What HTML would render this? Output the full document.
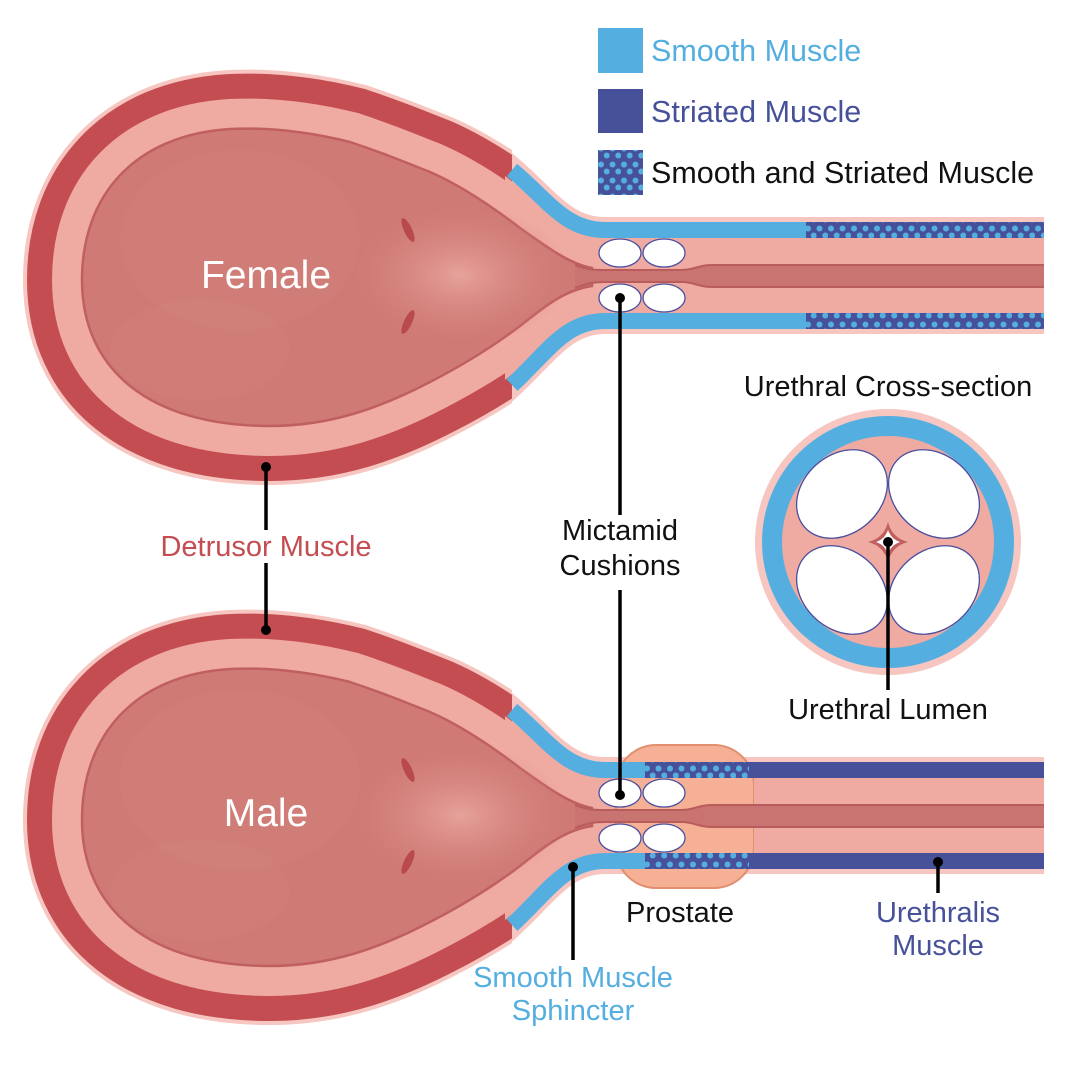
<!DOCTYPE html>
<html><head><meta charset="utf-8"><style>
html,body{margin:0;padding:0;background:#fff}
svg{display:block}
text{font-family:"Liberation Sans",Arial,sans-serif}
</style></head><body>
<svg width="1080" height="1065" viewBox="0 0 1080 1065" xmlns="http://www.w3.org/2000/svg">
<defs>
<pattern id="dots" x="0" y="0" width="11.5" height="16" patternUnits="userSpaceOnUse">
<rect width="11.5" height="16" fill="#46519a"/>
<circle cx="3" cy="4.5" r="3" fill="#55aee0"/>
<circle cx="8.75" cy="11.5" r="3" fill="#55aee0"/>
</pattern>
<clipPath id="cl"><rect x="0" y="0" width="512" height="600"/></clipPath>
<clipPath id="cl2"><rect x="0" y="0" width="512" height="600"/></clipPath>
<radialGradient id="trig" cx="0.5" cy="0.5" r="0.5">
<stop offset="0" stop-color="#e6a39b"/><stop offset="1" stop-color="#d7817b" stop-opacity="0"/>
</radialGradient>
<path id="core" d="M592,268 C570,264 548,248 520,228 C490,205 460,185 430,172 C400,160 380,152 350,142 C310,132 270,127 230,129 C135,135 82,195 82,280 C82,370 150,426 270,426 C330,426 380,408 430,382 C465,364 495,345 520,326 C545,306 565,290 592,286 Z"/>
<g id="bladder">
<use href="#core" fill="none" stroke="#f7c6c0" stroke-width="118" clip-path="url(#cl2)"/>
<use href="#core" fill="none" stroke="#c44d52" stroke-width="110" clip-path="url(#cl)"/>
<path d="M505,176 C545,206 565,234 605,234 L1044,234 L1044,318 L605,318 C565,318 545,348 505,380 Z" fill="#efaaa2"/>
<use href="#core" fill="none" stroke="#efaaa2" stroke-width="60"/>
<use href="#core" fill="#cf7a75" stroke="#c0605e" stroke-width="2.5"/>
<ellipse cx="240" cy="240" rx="120" ry="90" fill="#d98a83" opacity="0.2"/>
<ellipse cx="200" cy="350" rx="90" ry="50" fill="#d98a83" opacity="0.2"/>
<ellipse cx="460" cy="275" rx="110" ry="70" fill="url(#trig)"/>
<ellipse cx="408" cy="230" rx="4" ry="13" transform="rotate(-25 408 230)" fill="#b84a4e"/>
<ellipse cx="408" cy="322" rx="4" ry="13" transform="rotate(25 408 322)" fill="#b84a4e"/>
</g>
<g id="neck">
<path d="M500,160 C545,196 562,230 605,230 L1044,230" fill="none" stroke="#f7c6c0" stroke-width="26"/>
<path d="M500,395 C545,356 562,321 605,321 L1044,321" fill="none" stroke="#f7c6c0" stroke-width="26"/>
</g>
<path id="lum" d="M575,265 C588,270 595,270 605,270 L682,270 C694,270 698,265 712,265 L1044,265 L1044,287 L712,287 C698,287 694,282 682,282 L605,282 C595,282 588,283 575,288 Z"/>
<g id="cush" fill="#fff" stroke="#4a4fa0" stroke-width="1.3">
<ellipse cx="620" cy="253" rx="21" ry="14"/><ellipse cx="664" cy="253" rx="21" ry="14"/>
<ellipse cx="620" cy="298" rx="21" ry="14"/><ellipse cx="664" cy="298" rx="21" ry="14"/>
</g>
</defs>

<!-- FEMALE -->
<use href="#neck"/>
<use href="#bladder"/>
<path d="M512,170 C548,200 565,230 605,230 L806,230" fill="none" stroke="#55aee0" stroke-width="16"/>
<path d="M512,385 C548,352 565,321 605,321 L806,321" fill="none" stroke="#55aee0" stroke-width="16"/>
<rect x="806" y="222" width="238" height="16" fill="url(#dots)"/>
<rect x="806" y="313" width="238" height="16" fill="url(#dots)"/>
<use href="#lum" fill="#c97470"/>
<path d="M575,265 C588,270 595,270 605,270 L682,270 C694,270 698,265 712,265 L1044,265 M1044,287 L712,287 C698,287 694,282 682,282 L605,282 C595,282 588,283 575,288" fill="none" stroke="#b85c5c" stroke-width="2"/>
<use href="#cush"/>

<!-- MALE -->
<g transform="translate(0,540)">
<use href="#neck"/>
<use href="#bladder"/>
<rect x="616" y="205" width="138" height="143" rx="40" fill="#f5b096" stroke="#e0906e" stroke-width="2"/>
<path d="M512,170 C548,200 565,230 605,230 L645,230" fill="none" stroke="#55aee0" stroke-width="16"/>
<path d="M512,385 C548,352 565,321 605,321 L645,321" fill="none" stroke="#55aee0" stroke-width="16"/>
<rect x="645" y="222" width="399" height="16" fill="#46519a"/>
<rect x="645" y="313" width="399" height="16" fill="#46519a"/>
<rect x="645" y="222" width="104" height="16" fill="url(#dots)"/>
<rect x="645" y="313" width="104" height="16" fill="url(#dots)"/>
<rect x="754" y="238" width="290" height="75" fill="#efaaa2"/>
<use href="#lum" fill="#c97470"/>
<path d="M575,265 C588,270 595,270 605,270 L682,270 C694,270 698,265 712,265 L1044,265 M1044,287 L712,287 C698,287 694,282 682,282 L605,282 C595,282 588,283 575,288" fill="none" stroke="#b85c5c" stroke-width="2"/>
<use href="#cush"/>
</g>

<!-- Legend -->
<rect x="598" y="28" width="45" height="45" fill="#55aee0"/>
<rect x="598" y="89" width="45" height="44" fill="#46519a"/>
<rect x="598" y="150" width="45" height="45" fill="url(#dots)"/>
<text x="651" y="61" font-size="30.5" fill="#55aee0">Smooth Muscle</text>
<text x="651" y="122" font-size="30.5" fill="#46519a">Striated Muscle</text>
<text x="651" y="183" font-size="30.5" fill="#111">Smooth and Striated Muscle</text>

<!-- Cross-section -->
<circle cx="888" cy="542" r="133" fill="#f7c6c0"/>
<circle cx="888" cy="542" r="126" fill="#55aee0"/>
<circle cx="888" cy="542" r="106" fill="#efaaa2"/>
<g fill="#fff" stroke="#4a4fa0" stroke-width="1.3">
<ellipse cx="842" cy="494" rx="50" ry="39" transform="rotate(-42 842 494)"/>
<ellipse cx="934" cy="494" rx="50" ry="39" transform="rotate(42 934 494)"/>
<ellipse cx="842" cy="590" rx="50" ry="39" transform="rotate(42 842 590)"/>
<ellipse cx="934" cy="590" rx="50" ry="39" transform="rotate(-42 934 590)"/>
</g>
<path d="M888,522 Q892,538 908,542 Q892,546 888,562 Q884,546 868,542 Q884,538 888,522Z" fill="#c0605e"/>
<path d="M888,530 Q891,539 900,542 Q891,545 888,554 Q885,545 876,542 Q885,539 888,530Z" fill="#fff"/>

<!-- Labels & leaders -->
<g stroke="#000" stroke-width="3.5" fill="none">
<line x1="266" y1="467" x2="266" y2="530"/><line x1="266" y1="563" x2="266" y2="630"/>
<line x1="620" y1="298" x2="620" y2="515"/><line x1="620" y1="590" x2="620" y2="795"/>
<line x1="888" y1="542" x2="888" y2="690"/>
<line x1="938" y1="862" x2="938" y2="893"/>
<line x1="573" y1="867" x2="573" y2="960"/>
</g>
<g fill="#000">
<circle cx="266" cy="467" r="5"/><circle cx="266" cy="630" r="5"/>
<circle cx="620" cy="298" r="5"/><circle cx="620" cy="795" r="5"/>
<circle cx="888" cy="542" r="5"/><circle cx="938" cy="862" r="5"/><circle cx="573" cy="867" r="5"/>
</g>
<text x="266" y="288" font-size="39" fill="#fff" text-anchor="middle">Female</text>
<text x="266" y="826" font-size="39" fill="#fff" text-anchor="middle">Male</text>
<text x="266" y="556" font-size="29" fill="#c44d52" text-anchor="middle">Detrusor Muscle</text>
<g font-size="29" fill="#111" text-anchor="middle">
<text x="620" y="540">Mictamid</text><text x="620" y="575">Cushions</text>
<text x="888" y="396">Urethral Cross-section</text>
<text x="888" y="719">Urethral Lumen</text>
<text x="680" y="922">Prostate</text>
</g>
<g font-size="29" fill="#46519a" text-anchor="middle">
<text x="938" y="922">Urethralis</text><text x="938" y="955">Muscle</text>
</g>
<g font-size="29" fill="#55aee0" text-anchor="middle">
<text x="573" y="987">Smooth Muscle</text><text x="573" y="1020">Sphincter</text>
</g>
</svg>
</body></html>
